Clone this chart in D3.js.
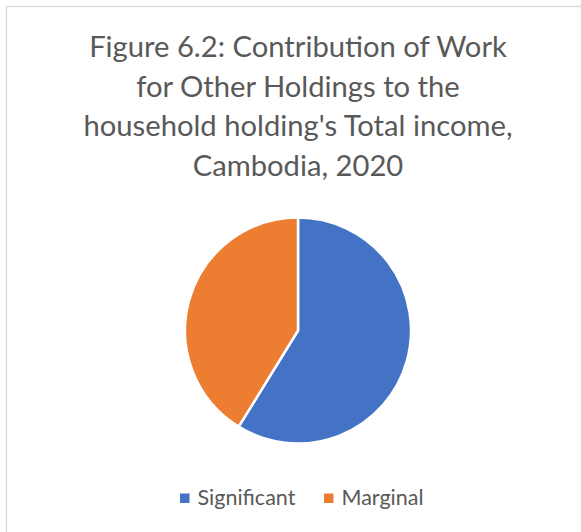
<!DOCTYPE html>
<html><head><meta charset="utf-8">
<script src="https://cdn.jsdelivr.net/npm/d3@7"></script>
<style>body{margin:0;background:#fff}svg{display:block}</style>
</head><body>
<script>
const titleLines = ["Figure 6.2: Contribution of Work","for Other Holdings to the","household holding's Total income,","Cambodia, 2020"];
const categories = ["Significant","Marginal"];
const values = [58.8, 41.2];
const colors = ["#4472C4","#ED7D31"];

const W = 581, H = 532;
const svg = d3.select("body").append("svg").attr("width", W).attr("height", H);
svg.append("rect").attr("x",6.5).attr("y",6.5).attr("width",W).attr("height",H)
  .attr("fill","#fff").attr("stroke","#d9d9d9").attr("stroke-width",1.3);

const font = "Lato, 'Open Sans', sans-serif";
svg.append("g").selectAll("text").data(titleLines).join("text")
  .attr("x", 298).attr("y", (d,i)=>57 + i*39.5)
  .attr("text-anchor","middle").attr("font-family",font).attr("font-size",29.2)
  .attr("fill","#595959").text(d=>d);

const data = categories.map((c,i)=>({cat:c, value:values[i], color:colors[i]}));
const pie = d3.pie().sort(null).value(d=>d.value);
const arc = d3.arc().innerRadius(0).outerRadius(113);
svg.append("g").attr("transform","translate(298,330.5)")
  .selectAll("path").data(pie(data)).join("path")
  .attr("d", arc).attr("fill", d=>d.data.color)
  .attr("stroke","#fff").attr("stroke-width",2.5).attr("stroke-linejoin","round");

const legend = svg.append("g");
const lx = [180, 324];
const items = legend.selectAll("g").data(data).join("g")
  .attr("transform",(d,i)=>`translate(${lx[i]},493.5)`);
items.append("rect").attr("width",9.5).attr("height",9.5).attr("fill",d=>d.color);
items.append("text").attr("x",17.5).attr("y",11.5).attr("font-family",font)
  .attr("font-size",21.5).attr("fill","#595959").text(d=>d.cat);
</script>
</body></html>
